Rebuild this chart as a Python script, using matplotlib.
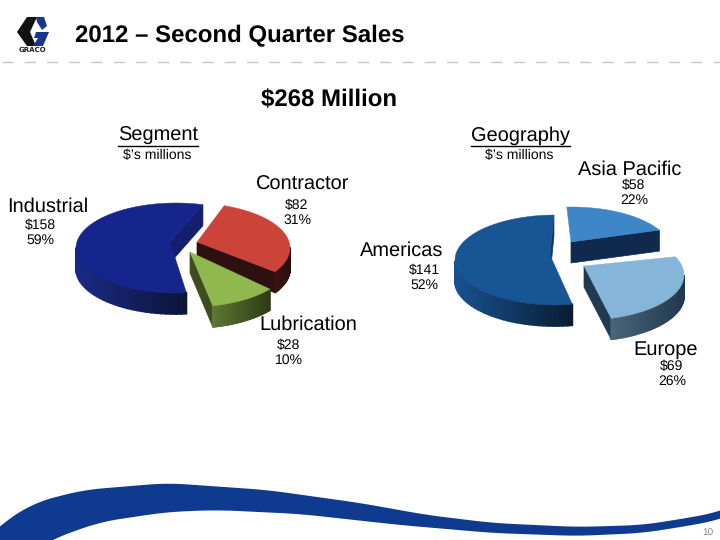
#!/usr/bin/env python3
import numpy as np
import matplotlib
matplotlib.use('Agg')
import matplotlib.pyplot as plt

plt.rcParams['font.family'] = ['Liberation Sans', 'DejaVu Sans']
plt.rcParams['text.hinting'] = 'no_hinting'
plt.rcParams['text.hinting_factor'] = 1

# values, $ millions
segment_names = ['Industrial', 'Contractor', 'Lubrication']
segment_values = [158, 82, 28]
segment_pcts = [59, 31, 10]

geo_names = ['Americas', 'Asia Pacific', 'Europe']
geo_values = [141, 58, 69]
geo_pcts = [52, 22, 26]

title = '2012 \u2013 Second Quarter Sales'
total_label = '$268 Million'
page_number = '10'

# slice layout, px: ellipse centre, apex of the top face, start angle, foreshortening of the sweep
segment_centres = [(176, 248), (190, 248), (190, 262)]
segment_apex = [(170, 242), (197, 242), (190, 252)]
segment_start = [276, 70, -37]
segment_k = [0.95, 0.925, 1.06]
segment_top = ['#16258c', '#cc433a', '#8fb84f']
segment_wall = ['#131f6e', '#2f1010', '#3d4d20']
segment_rim = [('#1a2a84', '#0b1438'), ('#3a1414', '#2a0e0e'), ('#5c7733', '#2e3a16')]

geo_centres = [(555, 260), (572, 252), (584, 275)]
geo_apex = [(550, 255), (571, 242), (584, 266)]
geo_start = [280, 93, 24]
geo_k = [1.0, 0.82, 1.06]
geo_top = ['#175595', '#3f86c8', '#86b5da']
geo_wall = ['#0f3560', '#0f2a4d', '#213a52']
geo_rim = [('#17528f', '#0a1c30'), ('#0f2a4d', '#0f2a4d'), ('#4a6478', '#20384f')]

RX, RY, DEPTH = 100, 45, 21


def mix(c1, c2, t):
    a = np.array(matplotlib.colors.to_rgb(c1))
    b = np.array(matplotlib.colors.to_rgb(c2))
    return tuple(a + (b - a) * t)


def draw_slice(ax, value, total, centre, apex, start, k, top, wall, rim):
    sweep = 360.0 * value / total * k
    phi = np.radians(np.linspace(start, start - sweep, 70))
    xs = centre[0] + RX * np.cos(phi)
    ys = centre[1] - RY * np.sin(phi)

    # straight wall on the clockwise end of the slice
    ax.fill([apex[0], xs[-1], xs[-1], apex[0]],
            [apex[1], ys[-1], ys[-1] + DEPTH, apex[1] + DEPTH], color=wall, lw=0.5)

    # outer rim, only the part that faces us
    front = np.sin(phi) < 0.02
    x0, x1 = xs[front].min() if front.any() else 0, xs[front].max() if front.any() else 1
    for i in range(len(phi) - 1):
        if front[i] and front[i + 1]:
            c = mix(rim[0], rim[1], (0.5 * (xs[i] + xs[i + 1]) - x0) / max(x1 - x0, 1))
            ax.fill([xs[i], xs[i + 1], xs[i + 1], xs[i]],
                    [ys[i], ys[i + 1], ys[i + 1] + DEPTH, ys[i] + DEPTH], color=c, lw=1.2)

    ax.fill(np.r_[apex[0], xs], np.r_[apex[1], ys], color=top, lw=0.3)


fig = plt.figure(figsize=(7.2, 5.4), dpi=100)
ax = fig.add_axes([0, 0, 1, 1])
ax.set_xlim(0, 720)
ax.set_ylim(540, 0)
ax.axis('off')

# bottom swoosh
sw_x = np.arange(-100, 821)
top_edge = np.interp(sw_x, [-100, 0, 33, 83, 167, 267, 360, 427, 493, 577, 643, 693, 719, 820],
                     [620, 525, 503, 490, 483, 490, 503, 515, 523, 527, 525, 517, 512, 470])
bot_edge = np.interp(sw_x, [-100, 50, 100, 167, 217, 300, 400, 493, 577, 643, 693, 719, 820],
                     [640, 540, 522, 512, 510, 514, 525, 533, 536, 533, 525, 520, 480])
win = np.ones(41) / 41
ax.fill_between(sw_x[20:-20], np.convolve(top_edge, win, 'valid'), np.convolve(bot_edge, win, 'valid'),
                color='#0e3a90', lw=0)

# header rule
ax.plot([2, 720], [62, 62], color='#bccdc9', lw=1, dashes=(8, 8))

# logo
ax.fill([17, 27, 37, 30, 36, 27], [32, 17, 17, 32, 46, 46], color='#111111', lw=0)
ax.fill([36, 44, 47, 42, 37], [17, 17, 26, 30, 22], color='#16398f', lw=0)
ax.fill([36, 49, 43, 33, 38, 34], [32, 32, 46, 46, 38, 38], color='#16398f', lw=0)
ax.text(32.5, 50, 'GRACO', fontsize=5.3, fontweight='bold', family='DejaVu Sans',
        ha='center', va='center', color='#222222')

ax.text(75, 36, title, fontsize=17.3, fontweight='bold', ha='left', va='center')
ax.text(329, 100, total_label, fontsize=17.3, fontweight='bold', ha='center', va='center')
ax.text(708, 533, page_number, fontsize=7, color='#888888', ha='center', va='center')

# headings
for x, y, s, x0, x1 in [(158, 136, 'Segment', 118, 198), (520, 136, 'Geography', 471, 570)]:
    ax.text(x, y, s, fontsize=14.4, ha='center', va='center')
    ax.plot([x0, x1], [146, 146], color='black', lw=1)
    ax.text(x - 1, 155, '$\u2019s millions', fontsize=10, ha='center', va='center')

# pies
for i in range(3):
    draw_slice(ax, segment_values[i], sum(segment_values), segment_centres[i], segment_apex[i],
               segment_start[i], segment_k[i], segment_top[i], segment_wall[i], segment_rim[i])
for i in range(3):
    draw_slice(ax, geo_values[i], sum(geo_values), geo_centres[i], geo_apex[i],
               geo_start[i], geo_k[i], geo_top[i], geo_wall[i], geo_rim[i])

# labels: name position, then position of value and percent
segment_label_pos = [((48, 207), (40, 225)), ((303, 185), (297, 205)), ((308, 325), (289, 345))]
geo_label_pos = [((402, 251), (424, 270)), ((630, 170), (634, 185)), ((666, 350), (672, 366))]

for names, values, pcts, pos in [(segment_names, segment_values, segment_pcts, segment_label_pos),
                                 (geo_names, geo_values, geo_pcts, geo_label_pos)]:
    for name, v, p, (np_, vp) in zip(names, values, pcts, pos):
        ax.text(np_[0], np_[1], name, fontsize=14.4, ha='center', va='center')
        ax.text(vp[0], vp[1], '${}'.format(v), fontsize=10, ha='center', va='center')
        ax.text(vp[0], vp[1] + 15, '{}%'.format(p), fontsize=10, ha='center', va='center')

fig.savefig('out.png', dpi=100)
